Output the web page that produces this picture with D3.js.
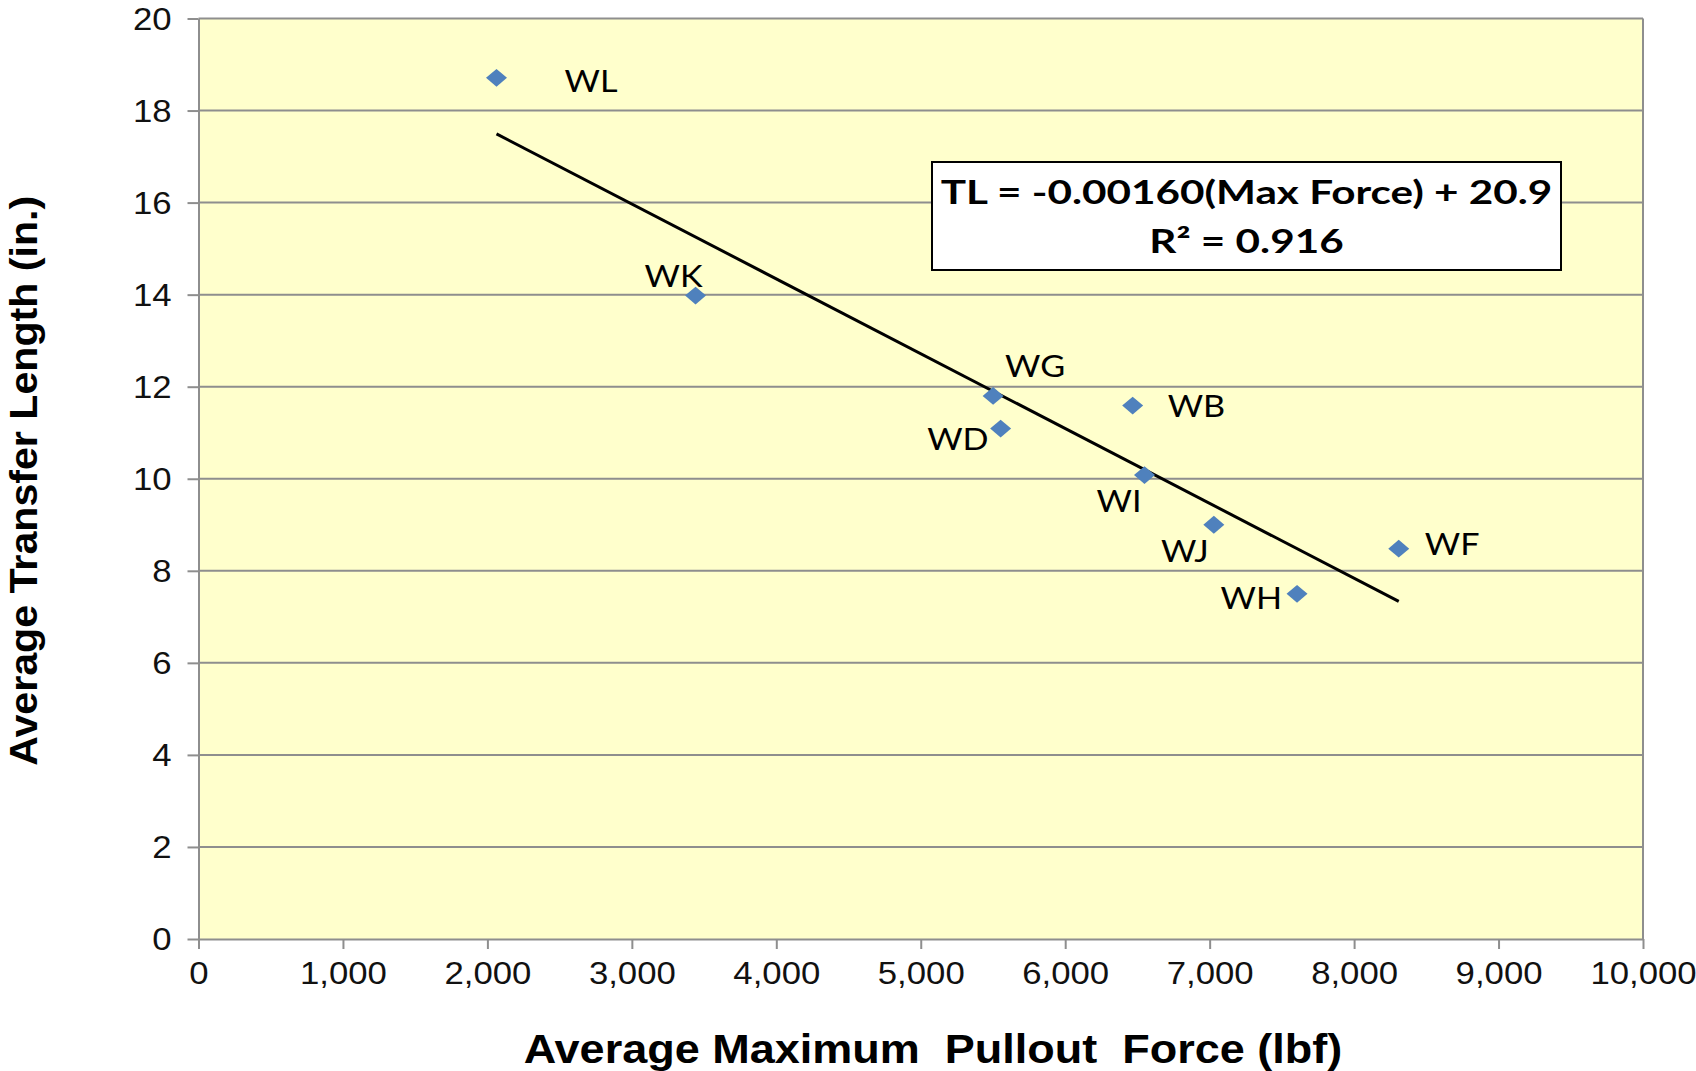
<!DOCTYPE html>
<html>
<head>
<meta charset="utf-8">
<script src="https://cdn.jsdelivr.net/npm/d3@7"></script>
<style>
  html, body { margin: 0; padding: 0; background: #fff; }
  svg { display: block; }
</style>
</head>
<body>
<svg id="chart" width="1696" height="1071"></svg>
<script>
// Specimen names with average max pullout force (lbf) and average transfer length (in.)
const specimens = ["WL", "WK", "WG", "WD", "WB", "WI", "WJ", "WH", "WF"];
const maxForce = [2063, 3441, 5501, 5553, 6467, 6549, 7029, 7605, 8309];
const transferLength = [18.71, 13.98, 11.80, 11.09, 11.59, 10.08, 9.00, 7.50, 8.48];

const xTicks = [0, 1000, 2000, 3000, 4000, 5000, 6000, 7000, 8000, 9000, 10000];
const yTicks = [0, 2, 4, 6, 8, 10, 12, 14, 16, 18, 20];

const equationLines = ["TL = -0.00160(Max Force) + 20.9", "R² = 0.916"];

// Label placement relative to each marker (px): [dx, dy, anchor]
const labelOffsets = {
  WL: [68, 3, "start"], WK: [-22, -19, "middle"], WG: [12, -30, "start"],
  WD: [-12, 11, "end"], WB: [35, 1, "start"], WI: [-3, 26, "end"],
  WJ: [-5, 26, "end"], WH: [-15, 4, "end"], WF: [26, -5, "start"]
};

// Widen a text element's glyphs horizontally by a factor
function widen(sel, factor) {
  sel.each(function () {
    const len = this.getComputedTextLength();
    d3.select(this).attr("textLength", len * factor).attr("lengthAdjust", "spacingAndGlyphs");
  });
}

const svg = d3.select("#chart");
const margin = { left: 198.5, right: 53, top: 18.5, bottom: 132 };
const W = 1696, H = 1071;
const x = d3.scaleLinear().domain([0, 10000]).range([margin.left, W - margin.right]);
const y = d3.scaleLinear().domain([0, 20]).range([H - margin.bottom, margin.top]);

const points = specimens.map((s, i) => ({ name: s, fx: maxForce[i], tl: transferLength[i] }));

// Plot background
svg.append("rect")
  .attr("x", x(0)).attr("y", y(20))
  .attr("width", x(10000) - x(0)).attr("height", y(0) - y(20))
  .attr("fill", "#FFFFCC");

// Horizontal gridlines
svg.append("g").selectAll("line").data(yTicks.filter(d => d > 0)).join("line")
  .attr("x1", x(0)).attr("x2", x(10000))
  .attr("y1", d => y(d)).attr("y2", d => y(d))
  .attr("stroke", "#8E8E8E").attr("stroke-width", 2);

// Right border
svg.append("line")
  .attr("x1", x(10000)).attr("x2", x(10000)).attr("y1", y(0)).attr("y2", y(20))
  .attr("stroke", "#8E8E8E").attr("stroke-width", 2);

// Axes
const xAxis = d3.axisBottom(x).tickValues(xTicks).tickFormat(d3.format(",")).tickSizeInner(10).tickSizeOuter(0).tickPadding(13);
const yAxis = d3.axisLeft(y).tickValues(yTicks).tickSizeInner(11).tickSizeOuter(0).tickPadding(16);

const gx = svg.append("g").attr("transform", `translate(0,${y(0)})`).call(xAxis);
const gy = svg.append("g").attr("transform", `translate(${x(0)},0)`).call(yAxis);

[gx, gy].forEach(g => {
  g.selectAll(".domain").attr("stroke", "#8E8E8E").attr("stroke-width", 2);
  g.selectAll(".tick line").attr("stroke", "#8E8E8E").attr("stroke-width", 2);
  g.selectAll(".tick text")
    .attr("fill", "#111")
    .style("font-family", "'Liberation Sans', Arial, sans-serif")
    .style("font-size", "31px");
});
gx.selectAll(".tick text").attr("dy", "0.71em");
gy.selectAll(".tick text").attr("dy", "0.34em");
widen(gx.selectAll(".tick text"), 1.12);
widen(gy.selectAll(".tick text"), 1.12);

// Least-squares trendline across the data range
const mx = d3.mean(maxForce), my = d3.mean(transferLength);
const sxy = d3.sum(points, p => (p.fx - mx) * (p.tl - my));
const sxx = d3.sum(points, p => (p.fx - mx) ** 2);
const slope = sxy / sxx, intercept = my - slope * mx;
const [xmin, xmax] = d3.extent(maxForce);
svg.append("line")
  .attr("x1", x(xmin)).attr("y1", y(intercept + slope * xmin))
  .attr("x2", x(xmax)).attr("y2", y(intercept + slope * xmax))
  .attr("stroke", "#000").attr("stroke-width", 3);

// Diamond markers (slightly wider than tall)
const wideDiamond = {
  draw(ctx, size) {
    const r = Math.sqrt(size) / 2;
    ctx.moveTo(0, -r * 0.85);
    ctx.lineTo(r, 0);
    ctx.lineTo(0, r * 0.85);
    ctx.lineTo(-r, 0);
    ctx.closePath();
  }
};
svg.append("g").selectAll("path").data(points).join("path")
  .attr("d", d3.symbol().type(wideDiamond).size(440))
  .attr("transform", d => `translate(${x(d.fx)},${y(d.tl)})`)
  .attr("fill", "#4F81BD");

// Point labels
const labels = svg.append("g").selectAll("text").data(points).join("text")
  .attr("x", d => x(d.fx) + labelOffsets[d.name][0])
  .attr("y", d => y(d.tl) + labelOffsets[d.name][1])
  .attr("text-anchor", d => labelOffsets[d.name][2])
  .attr("dy", "0.36em")
  .style("font-family", "Lato, 'Open Sans', sans-serif")
  .style("font-size", "30px")
  .attr("fill", "#000")
  .text(d => d.name);
widen(labels, 1.14);

// Equation box
const box = { x0: 932, y0: 162, x1: 1561, y1: 270 };
svg.append("rect")
  .attr("x", box.x0).attr("y", box.y0)
  .attr("width", box.x1 - box.x0).attr("height", box.y1 - box.y0)
  .attr("fill", "#fff").attr("stroke", "#000").attr("stroke-width", 2);
const eq = svg.append("g").selectAll("text").data(equationLines).join("text")
  .attr("x", (box.x0 + box.x1) / 2)
  .attr("y", (d, i) => 192 + i * 49)
  .attr("dy", "0.36em")
  .attr("text-anchor", "middle")
  .style("font-family", "Lato, sans-serif")
  .style("font-weight", "700")
  .style("font-size", "33px")
  .text(d => d);
widen(eq, 1.28);

// Axis titles
const xTitle = svg.append("text")
  .attr("x", 933)
  .attr("y", 1063)
  .attr("text-anchor", "middle")
  .style("font-family", "'Liberation Sans', Arial, sans-serif")
  .style("font-weight", "700")
  .style("font-size", "40px")
  .style("white-space", "pre")
  .text("Average Maximum  Pullout  Force (lbf)");
widen(xTitle, 1.125);

const yTitle = svg.append("text")
  .attr("transform", `translate(37,${(183 + 706) / 2 * 1.0816}) rotate(-90)`)
  .attr("text-anchor", "middle")
  .style("font-family", "'Liberation Sans', Arial, sans-serif")
  .style("font-weight", "700")
  .style("font-size", "39px")
  .text("Average Transfer Length (in.)");
widen(yTitle, 1.055);
</script>
</body>
</html>
